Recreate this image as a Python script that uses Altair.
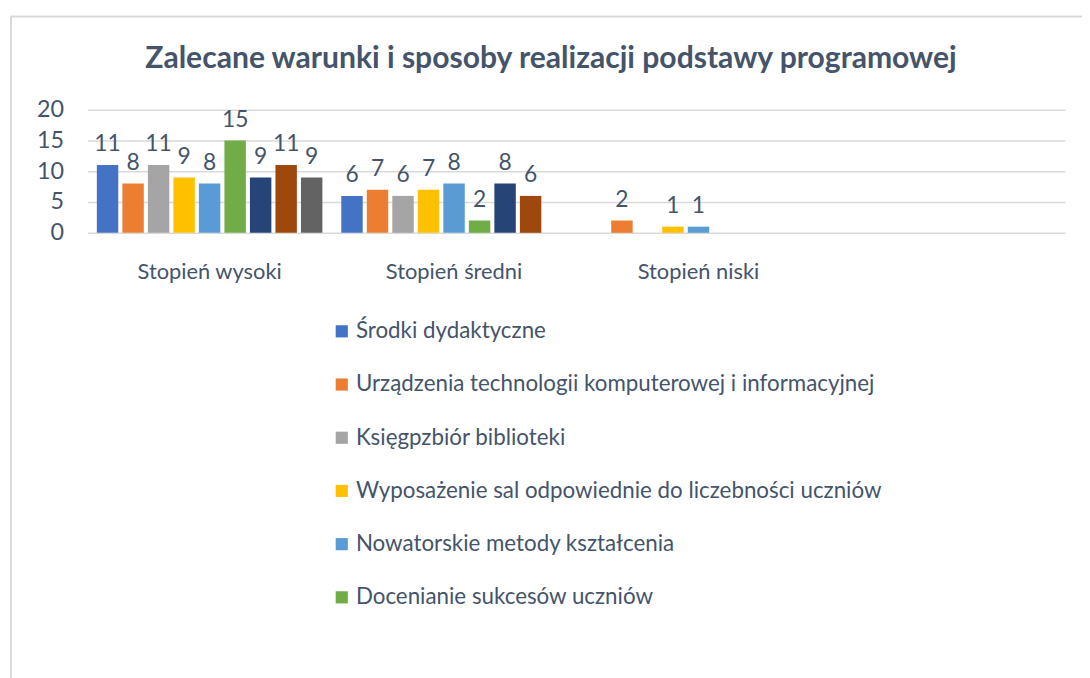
import altair as alt
import pandas as pd

title_text = "Zalecane warunki i sposoby realizacji podstawy programowej"
categories = ["Stopień wysoki", "Stopień średni", "Stopień niski", " "]
series = [
    "Środki dydaktyczne",
    "Urządzenia technologii komputerowej i informacyjnej",
    "Księgpzbiór biblioteki",
    "Wyposażenie sal odpowiednie do liczebności uczniów",
    "Nowatorskie metody kształcenia",
    "Docenianie sukcesów uczniów",
    "Seria 7",
    "Seria 8",
    "Seria 9",
]
wysoki = [11, 8, 11, 9, 8, 15, 9, 11, 9]
sredni = [6, 7, 6, 7, 8, 2, 8, 6, None]
niski = [None, 2, None, 1, 1, None, None, None, None]
colors = ["#4472C4", "#ED7D31", "#A5A5A5", "#FFC000", "#5B9BD5",
          "#70AD47", "#264478", "#9E480E", "#636363"]
y_ticks = [0, 5, 10, 15, 20]

rows = []
for cat, vals in zip(categories[:3], [wysoki, sredni, niski]):
    for s, v in zip(series, vals):
        if v is not None:
            rows.append({"kategoria": cat, "seria": s, "wartosc": v})
df = pd.DataFrame(rows)

TEXT = "#44546A"
FONT = "Lato"

x = alt.X("kategoria:N", scale=alt.Scale(domain=categories, paddingInner=0, paddingOuter=0),
          axis=alt.Axis(title=None, labelAngle=0, ticks=False, domain=False, labelPadding=29,
                        labelFontSize=22, labelColor=TEXT, labelFont=FONT, labelBaseline="top"))
xo = alt.XOffset("seria:N", scale=alt.Scale(domain=series, paddingInner=0.16, paddingOuter=0.37))
y = alt.Y("wartosc:Q", scale=alt.Scale(domain=[0, 20]),
          axis=alt.Axis(title=None, values=y_ticks, ticks=False, domain=False, labelPadding=24,
                        labelFontSize=23.5, labelColor=TEXT, labelFont=FONT,
                        gridColor="#D9D9D9", gridWidth=1.5))
color = alt.Color("seria:N", scale=alt.Scale(domain=series, range=colors),
                  legend=alt.Legend(title=None, values=series[:6], orient="none",
                                    legendX=245, legendY=212, direction="vertical",
                                    symbolType="square", symbolSize=150, symbolStrokeWidth=0,
                                    labelFontSize=22.5, labelColor=TEXT, labelFont=FONT,
                                    rowPadding=30.6, labelOffset=3, labelLimit=900))

bars = alt.Chart(df).mark_bar().encode(x=x, xOffset=xo, y=y, color=color)
labels = alt.Chart(df).mark_text(dy=-21, fontSize=23, color=TEXT, font=FONT, baseline="middle").encode(
    x=x, xOffset=xo, y=y, text="wartosc:Q")

one = alt.Data(values=[{"t": title_text}])
left = alt.Chart(one).mark_rule(color="#D9D9D9", strokeWidth=2).encode(
    x=alt.value(-77), y=alt.value(-94), y2=alt.value(700))
top = alt.Chart(one).mark_rule(color="#D9D9D9", strokeWidth=2).encode(
    x=alt.value(-77), x2=alt.value(1100), y=alt.value(-94))
title = alt.Chart(one).mark_text(fontSize=30.3, fontWeight="bold", color=TEXT, font=FONT,
                                 align="center", baseline="middle").encode(
    x=alt.value(467), y=alt.value(-51), text="t:N")

chart = alt.layer(left, top, title, bars, labels).properties(
    width=985, height=124,
    padding={"left": 80, "top": 100, "right": 17, "bottom": 446},
    autosize=alt.AutoSizeParams(type="none"),
).configure(background="white").configure_view(stroke=None)

chart.save("out.html", embed_options={"renderer": "svg", "actions": False})
